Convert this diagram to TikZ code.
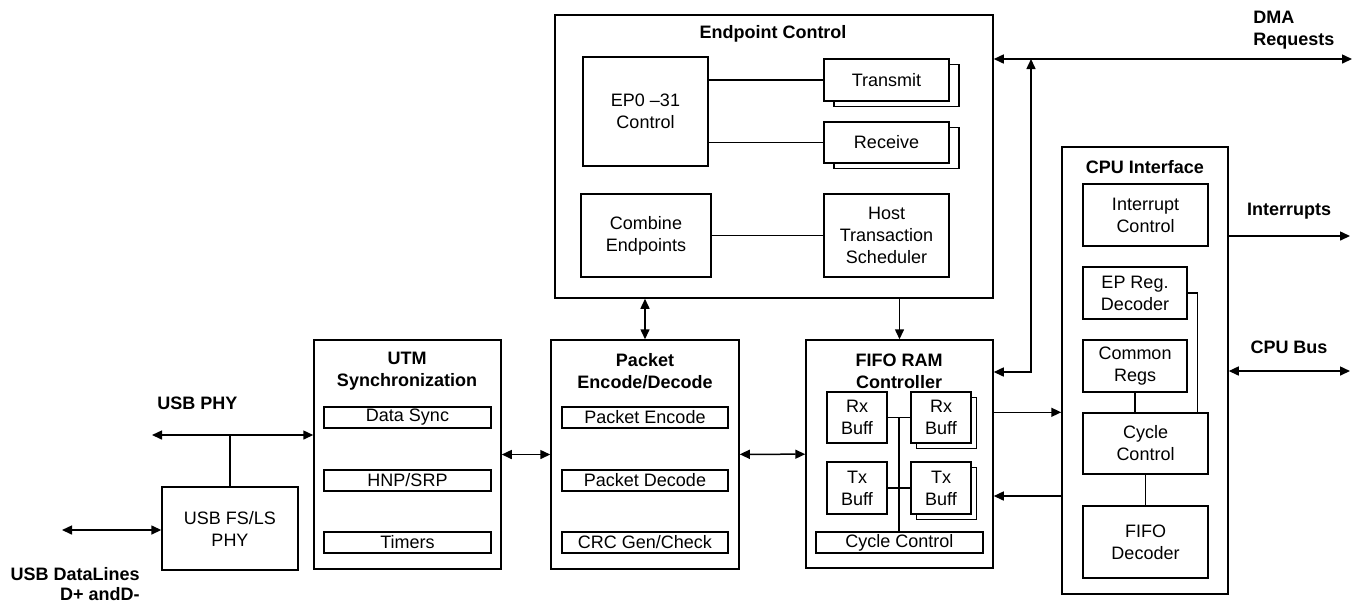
\documentclass[tikz,border=0pt]{standalone}
\usepackage{fontspec}
\setmainfont{Liberation Sans}
\usetikzlibrary{arrows.meta,fit,calc,shadows}

\tikzset{
  blk/.style={draw, line width=0.75pt, inner sep=0pt},
  sub/.style={draw, fill=white, line width=0.7pt, inner sep=0pt},
  txt/.style={label={[align=center, inner sep=0pt]center:#1}},
  stackbox/.style={sub, copy shadow={shadow xshift=#1, shadow yshift=-2.75pt, draw, fill=white, line width=0.7pt}},
  title/.style={font=\fontsize{9}{11}\selectfont\bfseries, align=center, inner sep=0pt},
  lbl/.style={font=\fontsize{9}{11}\selectfont\bfseries, inner sep=0pt},
  wire/.style={line width=0.75pt},
  >={Triangle[length=5pt,width=4.5pt]}
}

\begin{document}
\begin{tikzpicture}[x=0.5pt, y=-0.5pt, font=\fontsize{9}{11}\selectfont]
  \useasboundingbox (0,0) rectangle (1359,602);

  % Endpoint control block
  \node[blk, fit={(555,15) (993,298)}] (epc) {};
  \node[title] at (773,34) {Endpoint Control};
  \node[sub, fit={(583,57) (708,166)}, txt={EP0 --31\\Control}] (ep) {};
  \node[stackbox=5pt, fit={(824,59) (949,101)}, txt=Transmit] (tx) {};
  \node[stackbox=5pt, fit={(824,122) (949,163)}, txt=Receive] (rx) {};
  \node[sub, fit={(581,194) (711,277)}, txt={Combine\\Endpoints}] (comb) {};
  \node[sub, fit={(824,194) (949,277)}, txt={Host\\Transaction\\Scheduler}] (host) {};
  \draw[wire] (ep.east |- tx.west) -- (tx.west);
  \draw[wire] (ep.east |- rx.west) -- (rx.west);
  \draw[wire] (comb) -- (host);

  % UTM synchronization
  \node[blk, fit={(314,340) (501,569)}] (utm) {};
  \node[title] at (407,371) {UTM\\Synchronization};
  \node[sub, fit={(324,407) (491,428)}, txt={Data Sync}] (sync) {};
  \node[sub, fit={(324,470) (491,491)}, txt={HNP/SRP}] (hnp) {};
  \node[sub, fit={(324,532) (491,553)}, txt=Timers] (tim) {};

  % Packet encode/decode
  \node[blk, fit={(551,340) (739,569)}] (pkt) {};
  \node[title] at (645,371) {Packet\\Encode/Decode};
  \node[sub, fit={(562,407) (728,428)}, txt={Packet Encode}] (penc) {};
  \node[sub, fit={(562,470) (728,491)}, txt={Packet Decode}] (pdec) {};
  \node[sub, fit={(562,532) (728,553)}, txt={CRC Gen/Check}] (crc) {};

  % FIFO RAM controller
  \node[blk, fit={(806,340) (993,568)}] (fifo) {};
  \node[title] at (899,371) {FIFO RAM\\Controller};
  \node[sub, fit={(827,392) (887,443)}, txt={Rx\\Buff}] (rxa) {};
  \node[stackbox=2.75pt, fit={(911,392) (971,443)}, txt={Rx\\Buff}] (rxb) {};
  \node[sub, fit={(827,462) (887,514)}, txt={Tx\\Buff}] (txa) {};
  \node[stackbox=2.75pt, fit={(911,462) (971,514)}, txt={Tx\\Buff}] (txb) {};
  \node[sub, fit={(816,532) (983,553)}, txt={Cycle Control}] (fcyc) {};
  \coordinate (busTop) at ($(rxa.east)!0.5!(rxb.west)$);
  \draw[wire] (rxa.east) -- (rxb.west);
  \draw[wire] (txa.east) -- (txb.west);
  \draw[wire] (busTop) -- (busTop |- fcyc.north);

  % CPU interface
  \node[blk, fit={(1062,147) (1228,594)}] (cpu) {};
  \node[title] at (1145,167) {CPU Interface};
  \node[sub, fit={(1083,184) (1208,246)}, txt={Interrupt\\Control}] (intc) {};
  \node[sub, fit={(1083,267) (1187,319)}, txt={EP Reg.\\Decoder}] (epreg) {};
  \node[sub, fit={(1083,340) (1187,392)}, txt={Common\\Regs}] (creg) {};
  \node[sub, fit={(1083,413) (1208,474)}, txt={Cycle\\Control}] (ccyc) {};
  \node[sub, fit={(1083,506) (1208,578)}, txt={FIFO\\Decoder}] (fdec) {};
  \draw[wire] (creg.south) -- (creg.south |- ccyc.north);
  \draw[wire] (ccyc) -- (fdec);
  \draw[wire] (epreg.east) -| ($(ccyc.north east)+(-11,0)$);

  % USB PHY
  \node[sub, fit={(162,487) (298,570)}, txt={USB FS/LS\\PHY}] (phy) {};
  \coordinate (phyBus) at (152,435);
  \coordinate (dataIn) at (62,530);
  \draw[wire, <->] (phyBus) -- (phyBus -| utm.west);
  \draw[wire] (phy.north) -- (phy.north |- phyBus);
  \draw[wire, <->] (dataIn) -- (dataIn -| phy.west);

  % block to block
  \draw[wire, <->] (utm) -- (pkt);
  \draw[wire, <->] (pkt) -- (fifo);
  \draw[wire, <->] (pkt.north) -- (pkt.north |- epc.south);
  \draw[wire, ->] (fifo.north |- epc.south) -- (fifo.north);

  % DMA requests
  \coordinate (dmaR) at (1352,59);
  \coordinate (dmaTap) at (1031,59);
  \coordinate (dmaIn) at (1031,372);
  \draw[wire, <->] (epc.east |- dmaR) -- (dmaR);
  \draw[wire, <->] (fifo.east |- dmaIn) -- (dmaIn) -- (dmaTap);

  % FIFO and CPU
  \coordinate (cpuIn) at (1062,496);
  \draw[wire, ->] (fifo.east |- ccyc.north) -- (cpu.west |- ccyc.north);
  \draw[wire, ->] (cpuIn) -- (fifo.east |- cpuIn);

  % CPU outputs
  \coordinate (intOut) at (1350,236);
  \coordinate (busOut) at (1350,371);
  \draw[wire, ->] (cpu.east |- intOut) -- (intOut);
  \draw[wire, <->] (cpu.east |- busOut) -- (busOut);

  % outside labels
  \node[lbl, align=left, anchor=west] at (1253,30.5) {DMA\\Requests};
  \node[lbl] at (1289,211) {Interrupts};
  \node[lbl] at (1289,347) {CPU Bus};
  \node[lbl, anchor=west] at (157,403) {USB PHY};
  \node[lbl, font=\fontsize{9}{10}\selectfont\bfseries, align=right, anchor=east] at (140,584.5) {USB DataLines\\D+ andD-};
\end{tikzpicture}
\end{document}
